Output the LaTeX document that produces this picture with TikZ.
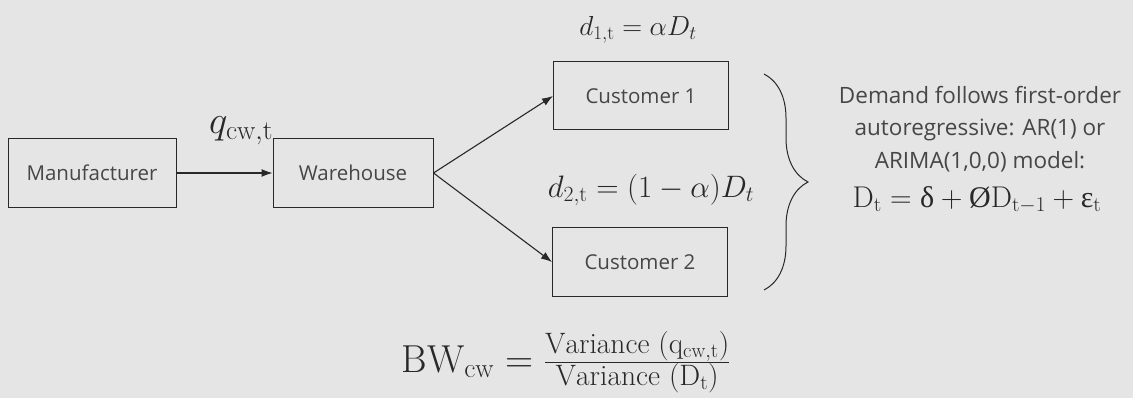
\RequirePackage{fix-cm}
\documentclass[tikz,border=0pt]{standalone}
\usepackage{fontspec}
\newfontfamily\sansf{Open Sans}
\newfontfamily\grk{Liberation Serif}
\usetikzlibrary{arrows.meta,decorations.pathreplacing}
\definecolor{bg}{RGB}{229,229,229}
\definecolor{ink}{RGB}{40,40,40}
\definecolor{txt}{RGB}{70,70,70}
\begin{document}
\begin{tikzpicture}[x=1pt,y=-1pt,
  box/.style={draw=ink,line width=1pt,minimum height=69pt,inner sep=0pt,
    text=txt,font=\sansf\fontsize{20.5}{25}\selectfont},
  conn/.style={draw=ink,line width=1.1pt,-{Latex[length=11pt,width=8pt]}},
  mlab/.style={text=ink,inner sep=0pt,font=\fontsize{31}{36}\selectfont},
  side/.style={text=txt,inner sep=0pt,align=center,font=\sansf\fontsize{22.5}{32.5}\selectfont}]
\fill[bg] (0,0) rectangle (1133,398);
\useasboundingbox (0,0) rectangle (1133,398);
\node[box,minimum width=168pt] (m) at (92,173) {Manufacturer};
\node[box,minimum width=160pt] (w) at (353,173) {Warehouse};
\node[box,minimum width=175pt,minimum height=68pt] (c1) at (641,96) {Customer 1};
\node[box,minimum width=175pt,minimum height=68pt] (c2) at (640,262) {Customer 2};
\draw[conn] (m.east) -- (w.west);
\draw[conn] (w.east) -- (c1.west);
\draw[conn] (w.east) -- (c2.west);
\node[mlab,font=\fontsize{39}{44}\selectfont] (q) at (241,131) {$q_{\mathrm{cw,t}}$};
\node[mlab,font=\fontsize{27.5}{32}\selectfont] (d1) at (638,30) {$d_{1,\mathrm{t}} = \alpha D_t$};
\node[mlab] (d2) at (651,190) {$d_{2,\mathrm{t}} = (1-\alpha) D_t$};
\coordinate (bt) at (764,74);
\coordinate (bb) at (764,290);
\draw[ink,line width=1pt,decorate,decoration={brace,amplitude=44pt,aspect=0.5}] (bt) -- (bb);
\node[side] (txt) at (980,129) {Demand follows first-order\\autoregressive: AR(1) or\\ARIMA(1,0,0) model:};
\node[mlab,font=\fontsize{30}{36}\selectfont] (ar) at (977,200) {$\mathrm{D}_{\mathrm{t}} = \mbox{\grk δ} + \mbox{\grk Ø}\mathrm{D}_{\mathrm{t}-1} + \mbox{\grk ε}_{\mathrm{t}}$};
\node[mlab,font=\fontsize{39}{44}\selectfont] (bw) at (566,362) {$\mathrm{BW}_{\mathrm{cw}} = \frac{\mbox{\fontsize{29.5}{33}\selectfont$\mathrm{Variance}\ (\mathrm{q}_{\mathrm{cw,t}})$}}{\mbox{\fontsize{29.5}{33}\selectfont$\mathrm{Variance}\ (\mathrm{D}_{\mathrm{t}})$}}$};
\end{tikzpicture}
\end{document}
